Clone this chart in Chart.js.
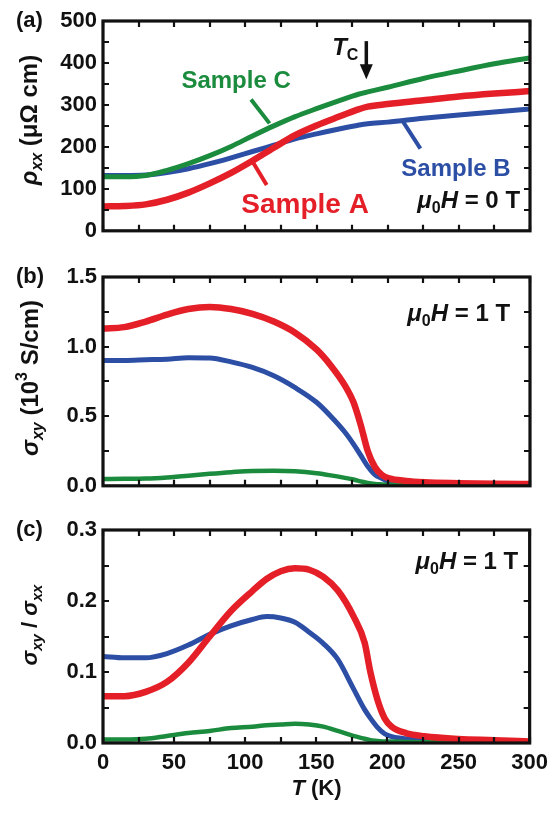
<!DOCTYPE html>
<html>
<head>
<meta charset="utf-8">
<script src="https://cdn.jsdelivr.net/npm/chart.js@4.4.0/dist/chart.umd.min.js"></script>
<style>
  body { margin: 0; background: #fff; }
  #wrap { position: relative; width: 555px; height: 813px; }
  canvas { position: absolute; left: 0; }
</style>
</head>
<body>
<div id="wrap">
  <canvas id="rho" width="555" height="250" style="top:0"></canvas>
  <canvas id="sxy" width="555" height="255" style="top:250px"></canvas>
  <canvas id="ratio" width="555" height="308" style="top:505px"></canvas>
</div>
<script>
// temperature axis (K)
const tempLabels = [0, 50, 100, 150, 200, 250, 300];

// (a) longitudinal resistivity, μΩ cm, zero field
const tempRho = [0, 15, 30, 45, 60, 75, 90, 105, 120, 135, 150, 165, 180, 186, 200, 225, 250, 275, 300];
const rhoA = [58, 59, 63, 74, 91, 113, 138, 167, 198, 228, 251, 271, 290, 296, 302, 311, 320, 327, 333];
const rhoB = [132, 132, 133, 139, 148, 160, 174, 189, 204, 219, 231, 242, 252, 255, 259, 268, 276, 283, 290];
const rhoC = [129, 129, 132, 144, 160, 179, 201, 226, 250, 272, 291, 309, 326, 331, 342, 363, 381, 398, 412];
const rhoLabels = [0, 100, 200, 300, 400, 500];

// (b) Hall conductivity, 10^3 S/cm at 1 T
const tempSxy = [0, 15, 30, 45, 60, 75, 90, 105, 120, 135, 150, 160, 170, 176, 181, 186, 191, 196, 201, 213, 226, 250, 275, 300];
const sxyA = [1.13, 1.14, 1.18, 1.23, 1.27, 1.285, 1.27, 1.235, 1.18, 1.10, 0.98, 0.865, 0.72, 0.60, 0.44, 0.25, 0.135, 0.077, 0.053, 0.035, 0.026, 0.019, 0.014, 0.013];
const sxyB = [0.90, 0.90, 0.905, 0.91, 0.92, 0.918, 0.89, 0.85, 0.79, 0.705, 0.60, 0.50, 0.385, 0.30, 0.22, 0.14, 0.08, 0.053, 0.03, 0.014, 0.01, 0.006, 0.005, 0.004];
const sxyC = [0.049, 0.05, 0.052, 0.06, 0.072, 0.086, 0.098, 0.107, 0.108, 0.104, 0.09, 0.075, 0.057, 0.045, 0.032, 0.02, 0.013, 0.01, 0.008, 0.006, 0.005, 0.004, 0.003, 0.003];
const sxyLabels = [0, 0.5, 1.0, 1.5];

// (c) Hall angle σxy/σxx at 1 T
const tempRatio = [0, 15, 30, 45, 60, 75, 90, 105, 115, 125, 135, 145, 155, 165, 176, 184, 188, 193, 198, 203, 213, 226, 250, 275, 300];
const ratioA = [0.066, 0.066, 0.072, 0.086, 0.113, 0.150, 0.186, 0.214, 0.231, 0.242, 0.246, 0.244, 0.234, 0.215, 0.179, 0.141, 0.10, 0.061, 0.035, 0.023, 0.014, 0.0095, 0.0057, 0.004, 0.002];
const ratioB = [0.122, 0.120, 0.120, 0.126, 0.138, 0.153, 0.165, 0.174, 0.178, 0.176, 0.170, 0.156, 0.140, 0.118, 0.077, 0.047, 0.035, 0.022, 0.013, 0.009, 0.006, 0.004, 0.002, 0.0015, 0.001];
const ratioC = [0.005, 0.005, 0.006, 0.010, 0.014, 0.017, 0.021, 0.023, 0.025, 0.026, 0.027, 0.026, 0.023, 0.017, 0.010, 0.006, 0.004, 0.003, 0.002, 0.002, 0.0015, 0.001, 0.001, 0.001, 0.001];
const ratioLabels = [0, 0.1, 0.2, 0.3];

const RED = '#e41f27', BLUE = '#2c4fa5', GREEN = '#1b8b3d', INK = '#111';
const FAMILY = '"Liberation Sans", Arial, sans-serif';
const PLOT_LEFT = 103, PLOT_RIGHT = 530;

function series(temps, vals) {
  return temps.map((t, i) => ({ x: t, y: vals[i] }));
}

function isLabel(list, v) {
  return list.some(l => Math.abs(l - v) < 1e-6);
}

// text made of runs: [text, style] with style containing i / sub / sup
function drawRuns(ctx, runs, x, y, size, align) {
  const fontOf = st => (st.includes('i') ? 'italic ' : '') + 'bold ' +
    (st.includes('sub') || st.includes('sup') ? Math.round(size * 0.66) : size) + 'px ' + FAMILY;
  let total = 0;
  const widths = runs.map(([t, st = '']) => {
    ctx.font = fontOf(st);
    const w = ctx.measureText(t).width;
    total += w;
    return w;
  });
  let cx = align === 'center' ? x - total / 2 : align === 'right' ? x - total : x;
  ctx.textAlign = 'left';
  ctx.textBaseline = 'middle';
  runs.forEach(([t, st = ''], i) => {
    ctx.font = fontOf(st);
    const dy = st.includes('sub') ? size * 0.3 : st.includes('sup') ? -size * 0.35 : 0;
    ctx.fillText(t, cx, y + dy);
    cx += widths[i];
  });
}

// annotations for each panel, in data units unless marked px
const notes = {
  rho: [
    { text: [['(a)']], px: [16, 21], align: 'left', color: INK },
    { text: [['ρ', 'i'], ['xx', 'i sub'], [' (μΩ cm)']], px: [30, 120], size: 24, rotate: true, color: INK },
    { text: [['Sample C']], at: [93.5, 356], size: 24, color: GREEN },
    { line: [[104, 313], [117, 256]], color: GREEN },
    { text: [['Sample A']], at: [142, 60], size: 28, color: RED },
    { line: [[104.5, 168], [115, 109]], color: RED },
    { text: [['Sample B']], at: [248, 147], size: 24, color: BLUE },
    { line: [[211, 259], [223, 196]], color: BLUE },
    { text: [['μ', 'i'], ['0', 'sub'], ['H', 'i'], [' = 0 T']], at: [293, 69], size: 24, align: 'right', color: INK },
    { text: [['T', 'i'], ['C', 'sub']], at: [161, 434], size: 24, align: 'left', color: INK },
    { arrow: [185, 452, 361] }
  ],
  sxy: [
    { text: [['(b)']], px: [16, 27], align: 'left', color: INK },
    { text: [['σ', 'i'], ['xy', 'i sub'], [' (10'], ['3', 'sup'], [' S/cm)']], px: [31, 128], size: 24, rotate: true, color: INK },
    { text: [['μ', 'i'], ['0', 'sub'], ['H', 'i'], [' = 1 T']], at: [286, 1.23], size: 24, align: 'right', color: INK }
  ],
  ratio: [
    { text: [['(c)']], px: [16, 25], align: 'left', color: INK },
    { text: [['σ', 'i'], ['xy', 'i sub'], [' / '], ['σ', 'i'], ['xx', 'i sub']], px: [31, 120], rotate: true, color: INK },
    { text: [['μ', 'i'], ['0', 'sub'], ['H', 'i'], [' = 1 T']], at: [292, 0.255], size: 24, align: 'right', color: INK },
    { text: [['T', 'i'], [' (K)']], px: [316.5, 284], color: INK }
  ]
};

// boxed frame with inward ticks on all four sides
const framePlugin = {
  id: 'frame',
  afterDatasetsDraw(chart) {
    const { ctx, chartArea: a, scales: { x, y } } = chart;
    ctx.save();
    ctx.strokeStyle = INK;
    ctx.lineWidth = 2.2;
    ctx.beginPath();
    x.ticks.forEach(t => {
      const p = Math.round(x.getPixelForValue(t.value));
      ctx.moveTo(p, a.bottom); ctx.lineTo(p, a.bottom - 6);
      ctx.moveTo(p, a.top); ctx.lineTo(p, a.top + 6);
    });
    y.ticks.forEach(t => {
      const p = Math.round(y.getPixelForValue(t.value));
      ctx.moveTo(a.left, p); ctx.lineTo(a.left + 6, p);
      ctx.moveTo(a.right, p); ctx.lineTo(a.right - 6, p);
    });
    ctx.stroke();
    ctx.lineWidth = 3.2;
    ctx.strokeRect(a.left, a.top, a.right - a.left, a.bottom - a.top);
    ctx.restore();
  }
};

const notesPlugin = {
  id: 'notes',
  afterDraw(chart) {
    const { ctx, scales: { x, y } } = chart;
    const px = p => [x.getPixelForValue(p[0]), y.getPixelForValue(p[1])];
    ctx.save();
    (notes[chart.canvas.id] || []).forEach(n => {
      ctx.fillStyle = n.color || INK;
      ctx.strokeStyle = n.color || INK;
      if (n.line) {
        const [a, b] = n.line.map(px);
        ctx.lineWidth = 4;
        ctx.beginPath(); ctx.moveTo(a[0], a[1]); ctx.lineTo(b[0], b[1]); ctx.stroke();
      } else if (n.arrow) {
        const [t, v1, v2] = n.arrow;
        const ax = x.getPixelForValue(t), y1 = y.getPixelForValue(v1), y2 = y.getPixelForValue(v2);
        ctx.lineWidth = 3.5;
        ctx.beginPath(); ctx.moveTo(ax, y1); ctx.lineTo(ax, y2 - 12); ctx.stroke();
        ctx.beginPath(); ctx.moveTo(ax - 6.5, y2 - 15); ctx.lineTo(ax + 6.5, y2 - 15); ctx.lineTo(ax, y2); ctx.closePath(); ctx.fill();
      } else {
        const size = n.size || 22;
        const [tx, ty] = n.px || px(n.at);
        if (n.rotate) {
          ctx.save();
          ctx.translate(tx, ty);
          ctx.rotate(-Math.PI / 2);
          drawRuns(ctx, n.text, 0, 0, size, 'center');
          ctx.restore();
        } else {
          drawRuns(ctx, n.text, tx, ty, size, n.align || 'center');
        }
      }
    });
    ctx.restore();
  }
};

const tickFont = { family: FAMILY, size: 22, weight: 'bold' };

function makePanel(id, cfg) {
  const mk = (label, vals, color, width) => ({
    label, data: series(cfg.temps, vals), borderColor: color, borderWidth: width,
    pointRadius: 0, cubicInterpolationMode: 'monotone', fill: false
  });
  return new Chart(document.getElementById(id), {
    type: 'line',
    data: {
      datasets: [
        mk('Sample A', cfg.values[0], RED, 6.5),
        mk('Sample C', cfg.values[2], GREEN, cfg.greenWidth),
        mk('Sample B', cfg.values[1], BLUE, 5)
      ]
    },
    options: {
      responsive: false,
      animation: false,
      events: [],
      layout: { padding: { top: cfg.top, right: 555 - PLOT_RIGHT, left: 0, bottom: 0 } },
      plugins: { legend: { display: false }, tooltip: { enabled: false } },
      scales: {
        x: {
          type: 'linear', min: 0, max: 300,
          grid: { display: false, drawTicks: false }, border: { display: false },
          ticks: {
            display: cfg.showX, stepSize: 25, autoSkip: false, maxRotation: 0, padding: 7,
            color: INK, font: tickFont,
            callback: v => isLabel(tempLabels, v) ? String(v) : ''
          },
          afterFit: s => { s.height = cfg.xHeight; }
        },
        y: {
          min: cfg.yMin, max: cfg.yMax,
          grid: { display: false, drawTicks: false }, border: { display: false },
          ticks: {
            stepSize: cfg.yStep, autoSkip: false, padding: 6, color: INK, font: tickFont,
            callback: v => isLabel(cfg.yLabels, v) ? cfg.fmt(v) : ''
          },
          afterFit: s => { s.width = PLOT_LEFT; }
        }
      }
    },
    plugins: [framePlugin, notesPlugin]
  });
}

makePanel('rho', {
  temps: tempRho, values: [rhoA, rhoB, rhoC], greenWidth: 5,
  yMin: 0, yMax: 500, yStep: 50, yLabels: rhoLabels, fmt: v => String(v),
  top: 21, xHeight: 17, showX: false
});
makePanel('sxy', {
  temps: tempSxy, values: [sxyA, sxyB, sxyC], greenWidth: 4.5,
  yMin: 0, yMax: 1.5, yStep: 0.25, yLabels: sxyLabels, fmt: v => v.toFixed(1),
  top: 27, xHeight: 16, showX: false
});
makePanel('ratio', {
  temps: tempRatio, values: [ratioA, ratioB, ratioC], greenWidth: 4.5,
  yMin: 0, yMax: 0.3, yStep: 0.05, yLabels: ratioLabels, fmt: v => v.toFixed(1),
  top: 25, xHeight: 70, showX: true
});
</script>
</body>
</html>
